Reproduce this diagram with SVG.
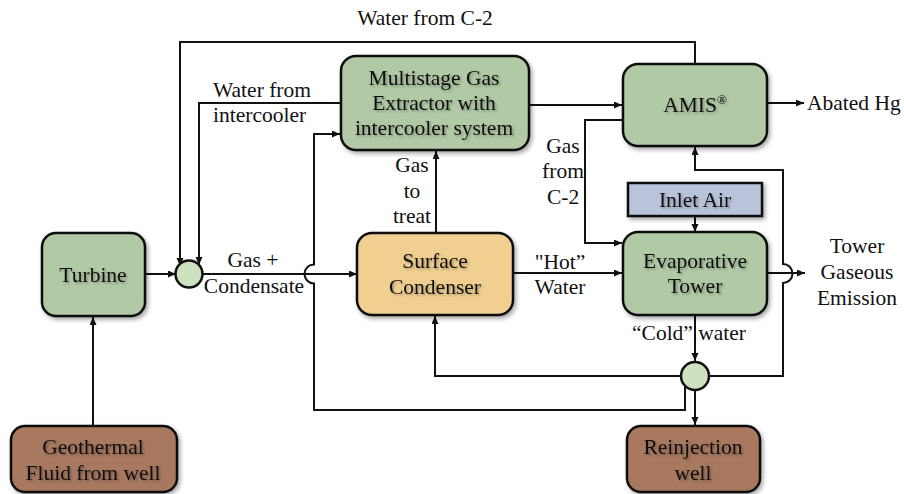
<svg xmlns="http://www.w3.org/2000/svg" width="904" height="494" viewBox="0 0 904 494" font-family="'Liberation Serif', 'Times New Roman', serif">
<defs>
<marker id="ah" markerUnits="userSpaceOnUse" markerWidth="9" markerHeight="8" refX="8" refY="3.5" orient="auto">
<path d="M0,0 L8,3.5 L0,7 z" fill="#111"/>
</marker>
<filter id="sh" x="-10%" y="-10%" width="130%" height="130%">
<feDropShadow dx="2" dy="2.5" stdDeviation="2" flood-color="#000" flood-opacity="0.35"/>
</filter>
<filter id="ts" x="-10%" y="-20%" width="130%" height="150%">
<feDropShadow dx="1.5" dy="1.5" stdDeviation="1.2" flood-color="#000" flood-opacity="0.3"/>
</filter>
</defs>
<style>
text{font-family:"Liberation Serif","Times New Roman",serif;font-size:21.5px;fill:#111}
.c{text-anchor:middle}
.n text{filter:url(#ts)}
.box{stroke:#111;stroke-width:2.5;filter:url(#sh)}
.g{fill:#b2c9a5}
.o{fill:#f0cf91}
.b{fill:#a8795e}
.a{fill:#b9c3da}
.j{fill:#cfe2c0;stroke:#111;stroke-width:2.5}
.ln{fill:none;stroke:#111;stroke-width:2}
.ar{marker-end:url(#ah)}
</style>
<rect width="904" height="494" fill="#fff"/>

<g id="connectors">
<path class="ln ar" d="M93,426 L93,317"/>
<path class="ln ar" d="M145,274 L176,274"/>
<path class="ln ar" d="M203,274 L357,274"/>
<path class="ln ar" d="M513,273 L622,273"/>
<path class="ln ar" d="M436,233 L436,151"/>
<path class="ln ar" d="M529,105 L622,105"/>
<path class="ln ar" d="M341,103 L199,103 L199,265"/>
<path class="ln ar" d="M695,64 L695,42 L180,42 L180,266"/>
<path class="ln ar" d="M623,120 L585,120 L585,243 L622,243"/>
<path class="ln ar" d="M767,103 L804,103"/>
<path class="ln ar" d="M695,216 L695,232"/>
<path class="ln ar" d="M767,273 L805,273"/>
<path class="ln ar" d="M695,315 L695,361"/>
<path class="ln ar" d="M681,376 L435,376 L435,316"/>
<path class="ln ar" d="M709,376 L783,376 L783,283 A9.5,9.5 0 0 0 783,264 L783,170 L695,170 L695,147"/>
<path class="ln ar" d="M695,390 L695,425"/>
<path class="ln ar" d="M685,387 L685,410 L314,410 L314,283.5 A9.5,9.5 0 0 1 314,264.5 L314,134 L340,134"/>
</g>

<g id="turbine" class="n">
<rect class="box g" x="42" y="233" width="103" height="83" rx="14"/>
<text class="c" x="93" y="282">Turbine</text>
</g>
<g id="geothermal" class="n">
<rect class="box b" x="11" y="426" width="166" height="66" rx="14"/>
<text class="c" x="93" y="454">Geothermal</text>
<text class="c" x="93" y="480">Fluid from well</text>
</g>
<g id="mixer1">
<circle class="j" cx="189" cy="274" r="13.5"/>
</g>
<g id="condenser" class="n">
<rect class="box o" x="357" y="233" width="156" height="82" rx="15"/>
<text class="c" x="435" y="268">Surface</text>
<text class="c" x="435" y="294">Condenser</text>
</g>
<g id="extractor" class="n">
<rect class="box g" x="341" y="56" width="188" height="94" rx="15"/>
<text class="c" x="434" y="85">Multistage Gas</text>
<text class="c" x="434" y="110">Extractor with</text>
<text class="c" x="434" y="135">intercooler system</text>
</g>
<g id="amis" class="n">
<rect class="box g" x="623" y="64" width="144" height="82" rx="15"/>
<text class="c" x="695" y="112">AMIS<tspan font-size="13" dy="-8">®</tspan></text>
</g>
<g id="inletair" class="n">
<rect class="box a" x="628" y="183" width="134" height="33" stroke-width="2"/>
<text class="c" x="695" y="207">Inlet Air</text>
</g>
<g id="evaporative" class="n">
<rect class="box g" x="623" y="232" width="144" height="83" rx="15"/>
<text class="c" x="695" y="268">Evaporative</text>
<text class="c" x="695" y="293">Tower</text>
</g>
<g id="mixer2">
<circle class="j" cx="695" cy="376" r="14"/>
</g>
<g id="reinjection" class="n">
<rect class="box b" x="627" y="426" width="133" height="66" rx="14"/>
<text class="c" x="693" y="454">Reinjection</text>
<text class="c" x="693" y="480">well</text>
</g>

<g id="labels">
<text class="c" x="425" y="25">Water from C-2</text>
<text x="213" y="97">Water from</text>
<text x="213" y="122">intercooler</text>
<text class="c" x="253" y="267">Gas +</text>
<text class="c" x="254" y="293">Condensate</text>
<text class="c" x="412" y="172">Gas</text>
<text class="c" x="412" y="198">to</text>
<text class="c" x="412" y="223">treat</text>
<text class="c" x="563" y="153">Gas</text>
<text class="c" x="563" y="178">from</text>
<text class="c" x="563" y="204">C-2</text>
<text class="c" x="560" y="269">"Hot”</text>
<text class="c" x="560" y="294">Water</text>
<text x="807" y="110">Abated Hg</text>
<text class="c" x="857" y="253">Tower</text>
<text class="c" x="857" y="279">Gaseous</text>
<text class="c" x="857" y="305">Emission</text>
<text x="632" y="340">“Cold” water</text>
</g>
</svg>
